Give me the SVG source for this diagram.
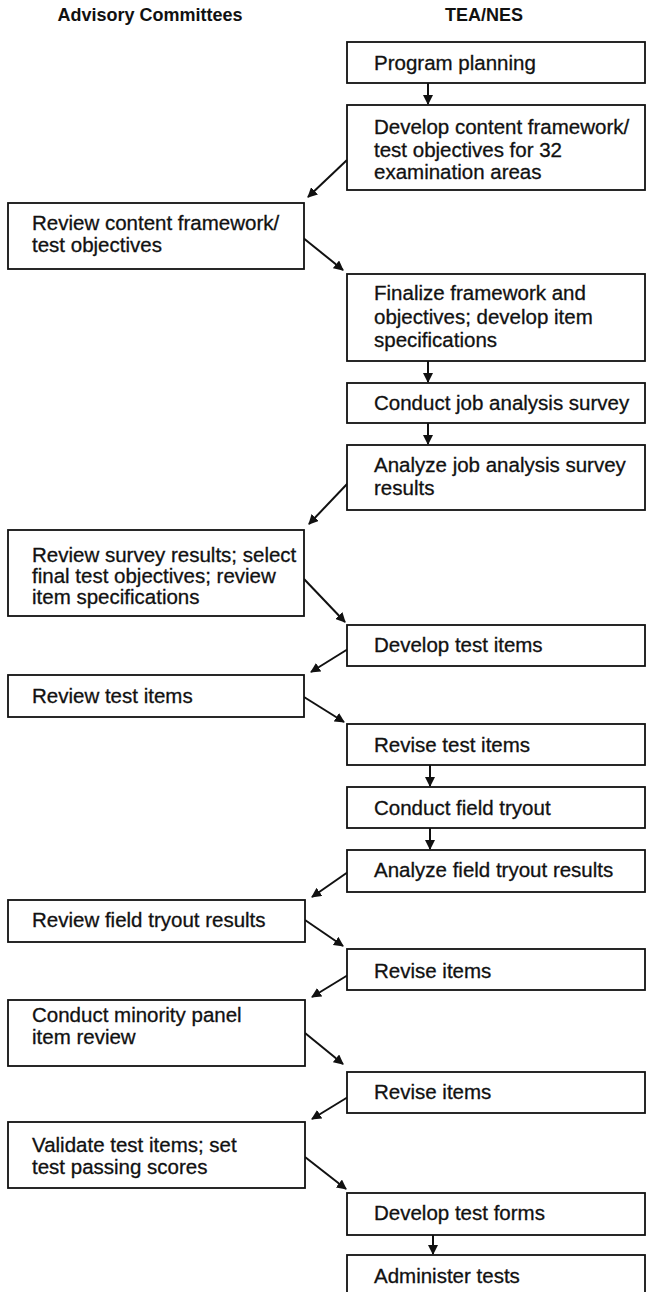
<svg xmlns="http://www.w3.org/2000/svg" width="646" height="1292" viewBox="0 0 646 1292">
<defs>
<style>
.box{fill:#fff;stroke:#111;stroke-width:1.8}
.t{font-family:"Liberation Sans",Arial,sans-serif;font-size:20.5px;fill:#111;stroke:#111;stroke-width:0.3}
.h{font-family:"Liberation Sans",Arial,sans-serif;font-size:18px;font-weight:bold;fill:#111;text-anchor:middle}
.c{stroke:#111;stroke-width:2;fill:none;marker-end:url(#ah)}
</style>
<marker id="ah" viewBox="0 0 10 10" refX="9" refY="5" markerWidth="5" markerHeight="5" orient="auto" markerUnits="strokeWidth">
<path d="M0,0 L10,5 L0,10 z" fill="#111"/>
</marker>
</defs>
<rect width="646" height="1292" fill="#fff"/>
<g id="headers">
<text class="h" x="150" y="21">Advisory Committees</text>
<text class="h" x="484" y="21">TEA/NES</text>
</g>
<g id="connectors">
<line class="c" x1="428" y1="83" x2="428" y2="104"/>
<line class="c" x1="347" y1="160" x2="308" y2="197"/>
<line class="c" x1="302" y1="237" x2="343" y2="270"/>
<line class="c" x1="428" y1="361" x2="428" y2="382"/>
<line class="c" x1="428" y1="423" x2="428" y2="444"/>
<line class="c" x1="348" y1="483" x2="309" y2="524"/>
<line class="c" x1="304" y1="579" x2="345" y2="622"/>
<line class="c" x1="348" y1="649" x2="311" y2="672"/>
<line class="c" x1="304" y1="697" x2="344" y2="722"/>
<line class="c" x1="430" y1="765" x2="430" y2="786"/>
<line class="c" x1="430" y1="828" x2="430" y2="849"/>
<line class="c" x1="348" y1="872" x2="312" y2="897"/>
<line class="c" x1="305" y1="920" x2="343" y2="946"/>
<line class="c" x1="348" y1="975" x2="312" y2="997"/>
<line class="c" x1="305" y1="1033" x2="343" y2="1064"/>
<line class="c" x1="348" y1="1097" x2="312" y2="1119"/>
<line class="c" x1="305" y1="1157" x2="346" y2="1189"/>
<line class="c" x1="433" y1="1235" x2="433" y2="1254"/>
</g>
<g id="n1"><rect class="box" x="347" y="42" width="298" height="41"/><text class="t" x="374" y="70">Program planning</text></g>
<g id="n2"><rect class="box" x="347" y="105" width="298" height="85"/><text class="t" x="374" y="134">Develop content framework/</text><text class="t" x="374" y="157">test objectives for 32</text><text class="t" x="374" y="179">examination areas</text></g>
<g id="n3"><rect class="box" x="8" y="203" width="296" height="66"/><text class="t" x="32" y="230">Review content framework/</text><text class="t" x="32" y="252">test objectives</text></g>
<g id="n4"><rect class="box" x="347" y="274" width="298" height="87"/><text class="t" x="374" y="300">Finalize framework and</text><text class="t" x="374" y="324">objectives; develop item</text><text class="t" x="374" y="347">specifications</text></g>
<g id="n5"><rect class="box" x="347" y="383" width="298" height="40"/><text class="t" x="374" y="410">Conduct job analysis survey</text></g>
<g id="n6"><rect class="box" x="347" y="445" width="298" height="65"/><text class="t" x="374" y="472">Analyze job analysis survey</text><text class="t" x="374" y="495">results</text></g>
<g id="n7"><rect class="box" x="8" y="530" width="296" height="86"/><text class="t" x="32" y="562">Review survey results; select</text><text class="t" x="32" y="583">final test objectives; review</text><text class="t" x="32" y="604">item specifications</text></g>
<g id="n8"><rect class="box" x="347" y="625" width="298" height="41"/><text class="t" x="374" y="652">Develop test items</text></g>
<g id="n9"><rect class="box" x="8" y="675" width="296" height="42"/><text class="t" x="32" y="703">Review test items</text></g>
<g id="n10"><rect class="box" x="347" y="724" width="298" height="41"/><text class="t" x="374" y="752">Revise test items</text></g>
<g id="n11"><rect class="box" x="347" y="787" width="298" height="41"/><text class="t" x="374" y="815">Conduct field tryout</text></g>
<g id="n12"><rect class="box" x="347" y="850" width="298" height="42"/><text class="t" x="374" y="877">Analyze field tryout results</text></g>
<g id="n13"><rect class="box" x="8" y="900" width="297" height="42"/><text class="t" x="32" y="927">Review field tryout results</text></g>
<g id="n14"><rect class="box" x="347" y="949" width="298" height="41"/><text class="t" x="374" y="978">Revise items</text></g>
<g id="n15"><rect class="box" x="8" y="1000" width="297" height="66"/><text class="t" x="32" y="1022">Conduct minority panel</text><text class="t" x="32" y="1044">item review</text></g>
<g id="n16"><rect class="box" x="347" y="1072" width="298" height="41"/><text class="t" x="374" y="1099">Revise items</text></g>
<g id="n17"><rect class="box" x="8" y="1122" width="297" height="66"/><text class="t" x="32" y="1152">Validate test items; set</text><text class="t" x="32" y="1174">test passing scores</text></g>
<g id="n18"><rect class="box" x="347" y="1193" width="298" height="42"/><text class="t" x="374" y="1220">Develop test forms</text></g>
<g id="n19"><rect class="box" x="347" y="1255" width="298" height="60"/><text class="t" x="374" y="1283">Administer tests</text></g>
</svg>
